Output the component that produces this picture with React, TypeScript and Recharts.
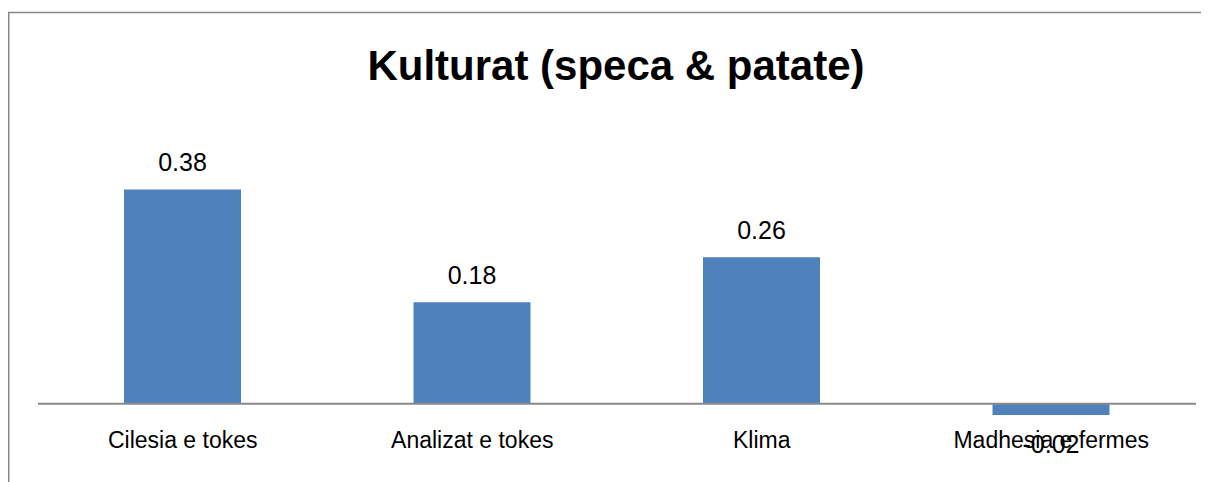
import React from "react";
import { BarChart, Bar, XAxis, YAxis, ReferenceLine, LabelList, Customized } from "recharts";

const categories = ["Cilesia e tokes", "Analizat e tokes", "Klima", "Madhesia e fermes"];
const values = [0.38, 0.18, 0.26, -0.02];
const valueLabels = ["0.38", "0.18", "0.26", "-0.02"];
const title = "Kulturat (speca & patate)";

const data = categories.map((c, i) => ({ name: c, value: values[i], label: valueLabels[i] }));

const FONT = "'Liberation Sans', Arial, sans-serif";
const W = 1201;
const H = 474;

const CategoryTick = (props: any) => {
  const { x, y, payload } = props;
  return (
    <text x={x} y={y + 25} textAnchor="middle" dominantBaseline="central" fontFamily={FONT} fontSize={23} fill="#000">
      {payload.value}
    </text>
  );
};

const ValueLabel = (props: any) => {
  const { x, y, width, height, index } = props;
  const v = values[index];
  const top = Math.min(y, y + height);
  const bottom = Math.max(y, y + height);
  const cy = v >= 0 ? top - 27 : bottom + 29;
  return (
    <text x={x + width / 2} y={cy} textAnchor="middle" dominantBaseline="central" fontFamily={FONT} fontSize={25} fill="#000">
      {valueLabels[index]}
    </text>
  );
};

const Frame = () => (
  <g>
    <line x1={0} y1={4.5} x2={W} y2={4.5} stroke="#878787" strokeWidth={1.5} />
    <line x1={0.75} y1={4.5} x2={0.75} y2={H} stroke="#878787" strokeWidth={1.5} />
    <text x={608} y={57} textAnchor="middle" dominantBaseline="central" fontFamily={FONT} fontWeight="bold" fontSize={42} fill="#000">
      {title}
    </text>
  </g>
);

export default function App() {
  return (
    <BarChart width={W} height={H} data={data} margin={{ top: 142, right: 13, bottom: 27, left: 30 }}>
      <Customized component={Frame} />
      <XAxis dataKey="name" axisLine={false} tickLine={false} tickSize={0} tickMargin={0} height={40} tick={<CategoryTick />} interval={0} />
      <YAxis hide domain={[-0.02, 0.45]} allowDataOverflow />
      <ReferenceLine y={0} stroke="#898989" strokeWidth={2} ifOverflow="extendDomain" />
      <Bar dataKey="value" fill="#4F81BD" barSize={117} isAnimationActive={false}>
        <LabelList dataKey="value" content={<ValueLabel />} />
      </Bar>
    </BarChart>
  );
}
